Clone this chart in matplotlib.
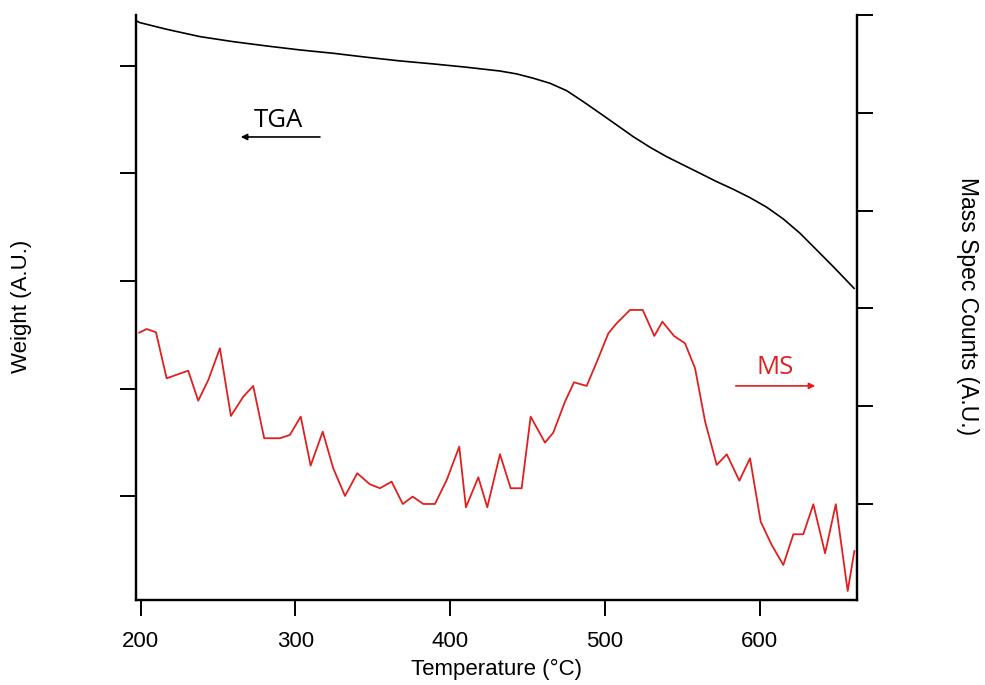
import matplotlib.pyplot as plt
import numpy as np

# TGA trace (weight, arbitrary units on left axis)
tga_temp = [197.8, 199.5, 216.8, 238.3, 259.8, 281.4, 302.9, 324.4, 346.0, 367.5,
            389.0, 410.6, 432.1, 442.9, 453.6, 464.4, 475.2, 485.9, 496.7, 507.5,
            518.2, 529.0, 539.8, 550.5, 561.3, 572.1, 582.8, 593.6, 604.4, 615.1,
            625.9, 636.7, 647.4, 660.8]
tga_weight = [5.415, 5.403, 5.341, 5.273, 5.226, 5.186, 5.149, 5.118, 5.081, 5.047,
              5.019, 4.988, 4.953, 4.926, 4.886, 4.839, 4.770, 4.668, 4.560, 4.451,
              4.342, 4.244, 4.156, 4.079, 4.002, 3.924, 3.853, 3.775, 3.686, 3.577,
              3.444, 3.288, 3.133, 2.932]

# mass spec trace (counts, arbitrary units on right axis)
ms_temp = [199.1, 203.9, 209.9, 216.8, 230.7, 237.2, 243.7, 251.2, 258.3, 266.3,
           272.7, 279.8, 290.0, 296.4, 303.4, 309.8, 317.6, 324.4, 332.0, 339.9,
           348.1, 354.6, 362.1, 369.3, 375.7, 382.6, 390.1, 397.7, 405.8, 410.1,
           418.1, 423.9, 432.1, 439.0, 446.1, 451.9, 461.2, 466.5, 474.1, 479.9,
           488.1, 495.6, 502.1, 507.5, 516.1, 524.3, 531.8, 537.0, 544.5, 551.6,
           558.1, 564.6, 572.1, 578.6, 586.7, 593.6, 600.5, 607.6, 615.1, 621.6,
           628.0, 634.5, 642.1, 649.0, 656.7, 661.0]
ms_counts = [2.752, 2.789, 2.756, 2.285, 2.363, 2.056, 2.268, 2.592, 1.900, 2.097,
             2.207, 1.672, 1.672, 1.706, 1.893, 1.392, 1.739, 1.365, 1.082, 1.314,
             1.201, 1.161, 1.228, 1.000, 1.075, 1.000, 1.000, 1.245, 1.586, 0.966,
             1.273, 0.966, 1.508, 1.161, 1.161, 1.893, 1.627, 1.729, 2.046, 2.244,
             2.207, 2.490, 2.745, 2.848, 2.984, 2.984, 2.718, 2.864, 2.718, 2.643,
             2.388, 1.842, 1.399, 1.508, 1.238, 1.467, 0.819, 0.581, 0.376, 0.690,
             0.690, 0.997, 0.496, 0.997, 0.110, 0.519]

x_ticks = [200, 300, 400, 500, 600]
left_ticks = [1, 2, 3, 4, 5]
right_ticks = [1, 2, 3, 4, 5, 6]

red = '#e0201f'
axis_font = 'Liberation Sans'
note_font = 'Open Sans'

fig = plt.figure(figsize=(9.85, 6.85), dpi=100)
ax = fig.add_axes([136 / 985, 1 - 600 / 685, 721 / 985, 585 / 685])
ax2 = ax.twinx()

ax.plot(tga_temp, tga_weight, color='black', lw=1.2)
ax2.plot(ms_temp, ms_counts, color=red, lw=1.3)

ax.set_xlim(197.0, 662.7)
ax.set_ylim(0.033, 5.474)
ax2.set_ylim(0.018, 6.0)

for a in (ax, ax2):
    a.spines['top'].set_visible(False)
    for s in ('left', 'right', 'bottom'):
        a.spines[s].set_linewidth(1.6)

ax.set_xticks(x_ticks)
ax.set_yticks(left_ticks)
ax2.set_yticks(right_ticks)
ax.tick_params(axis='x', direction='out', length=11.5, width=1.4, pad=11,
               labelsize=16)
ax.tick_params(axis='y', direction='out', length=11.5, width=1.4, labelleft=False)
ax2.tick_params(axis='y', direction='out', length=11.5, width=1.4, labelright=False)
for lab in ax.get_xticklabels():
    lab.set_fontfamily(axis_font)

ax.set_xlabel('Temperature (\u00b0C)', fontsize=16, family=axis_font, labelpad=5)
fig.text(22 / 985, 1 - 306 / 685, 'Weight (A.U.)', rotation=90, fontsize=16,
         family=axis_font, ha='center', va='center')
fig.text(968 / 985, 1 - 306 / 685, 'Mass Spec Counts (A.U.)', rotation=-90,
         fontsize=16.5, family=axis_font, ha='center', va='center')

# annotations with arrows
ax.annotate('', xy=(0.1415, 0.7915), xytext=(0.259, 0.7915), xycoords='axes fraction',
            arrowprops=dict(arrowstyle='-|>', color='black', lw=1.2, mutation_scale=9))
ax.text(0.197, 0.8205, 'TGA', transform=ax.transAxes, fontsize=18.5, family=note_font,
        ha='center', va='center')
ax.annotate('', xy=(0.946, 0.366), xytext=(0.828, 0.366), xycoords='axes fraction',
            arrowprops=dict(arrowstyle='-|>', color=red, lw=1.2, mutation_scale=9))
ax.text(0.886, 0.398, 'MS', transform=ax.transAxes, fontsize=18.5, family=note_font,
        color=red, ha='center', va='center')

fig.savefig('out.png', dpi=100)
